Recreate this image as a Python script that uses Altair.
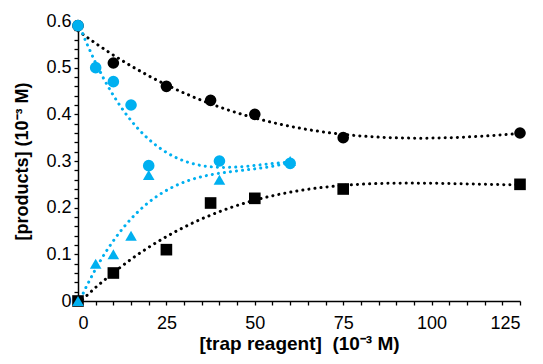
import altair as alt
import pandas as pd

# --- data ---
bc_x = [0, 10, 25, 37.5, 50, 75, 125]
bc_y = [0.59, 0.51, 0.46, 0.43, 0.40, 0.35, 0.36]

bs_x = [0, 10, 25, 37.5, 50, 75, 125]
bs_y = [0.0, 0.06, 0.11, 0.21, 0.22, 0.24, 0.25]

cc_x = [0, 5, 10, 15, 20, 40, 60]
cc_y = [0.59, 0.50, 0.47, 0.42, 0.29, 0.30, 0.295]

ct_x = [0, 5, 10, 15, 20, 40, 60]
ct_y = [0.0, 0.08, 0.10, 0.14, 0.27, 0.26, 0.30]

series_names = ["black circles", "black squares", "cyan circles", "cyan triangles"]
series_colors = ["#000000", "#000000", "#00B0F0", "#00B0F0"]
series_shapes = ["circle", "square", "circle", "triangle-up"]

x_tick_values = [0, 5, 10, 15, 20, 25, 30, 35, 40, 45, 50, 55, 60, 65, 70, 75,
                 80, 85, 90, 95, 100, 105, 110, 115, 120, 125]
y_tick_values = [0, 0.02, 0.04, 0.06, 0.08, 0.1, 0.12, 0.14, 0.16, 0.18, 0.2,
                 0.22, 0.24, 0.26, 0.28, 0.3, 0.32, 0.34, 0.36, 0.38, 0.4,
                 0.42, 0.44, 0.46, 0.48, 0.5, 0.52, 0.54, 0.56, 0.58, 0.6]

rows = []
for name, xs, ys in zip(series_names, [bc_x, bs_x, cc_x, ct_x], [bc_y, bs_y, cc_y, ct_y]):
    for xv, yv in zip(xs, ys):
        rows.append({"series": name, "x": xv, "y": yv})
df = pd.DataFrame(rows)

FONT = "Liberation Sans"

color = alt.Color("series:N", scale=alt.Scale(domain=series_names, range=series_colors), legend=None)
shape = alt.Shape("series:N", scale=alt.Scale(domain=series_names, range=series_shapes), legend=None)

xenc = alt.X(
    "x:Q",
    scale=alt.Scale(domain=[0, 125], nice=False, zero=False),
    axis=alt.Axis(
        title="[trap reagent]\u00a0 (10⁻³ M)",
        values=x_tick_values,
        labelExpr="datum.value % 25 == 0 ? datum.label : ''",
        grid=False,
        labelPadding=9,
        titlePadding=2,
        titleFontSize=19,
    ),
)
yenc = alt.Y(
    "y:Q",
    scale=alt.Scale(domain=[0, 0.6], nice=False, zero=False),
    axis=alt.Axis(
        title="[products] (10⁻³ M)",
        values=y_tick_values,
        format=".1~f",
        labelExpr="datum.value == 0 ? '0\u2002' : (abs(round(datum.value * 50) % 5) == 0 ? datum.label : '')",
        grid=False,
        labelPadding=3,
        titlePadding=14,
        titleFontSize=18,
    ),
)

base = alt.Chart(df)

lines = base.transform_regression(
    "x", "y", method="poly", order=3, groupby=["series"]
).mark_line(
    strokeWidth=3, strokeDash=[0.1, 6], strokeCap="round", clip=False
).encode(x=xenc, y=yenc, color=color, detail="series:N")

points = base.mark_point(filled=True, size=135, opacity=1, clip=False).encode(
    x=xenc, y=yenc, color=color, shape=shape
)

chart = alt.layer(lines, points).properties(
    width=442,
    height=280,
    autosize=alt.AutoSizeParams(type="none"),
    padding={"left": 70, "top": 13, "right": 15, "bottom": 55},
).configure_view(stroke=None).configure_axis(
    labelFont=FONT,
    titleFont=FONT,
    labelFontSize=18,
    titleFontWeight="bold",
    labelColor="#000000",
    titleColor="#000000",
    domainColor="#000000",
    domainWidth=1.5,
    tickColor="#000000",
    tickWidth=1.3,
    tickSize=4,
)

chart.save("out.html", embed_options={"renderer": "svg", "actions": False})
